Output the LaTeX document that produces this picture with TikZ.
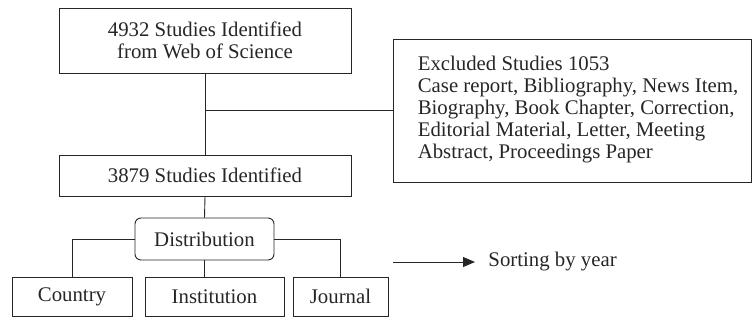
\documentclass[tikz,border=0pt]{standalone}
\usepackage{fontspec}
\setmainfont{Liberation Serif}
\usetikzlibrary{arrows.meta}
\begin{document}
\begin{tikzpicture}[x=1pt,y=-1pt,
  line width=0.9pt, draw=black!85,
  every node/.style={font=\fontsize{20.8}{22}\selectfont, text=black!85},
  box/.style={draw=black!85, line width=0.9pt, inner sep=0pt, align=center},
  rbox/.style={box, rounded corners=6pt},
  conn/.style={draw=black!85, line width=0.9pt}]
\useasboundingbox (0,0) rectangle (753,321);
\node[box, minimum width=292pt, minimum height=65pt] (top) at (205,40.5) {4932 Studies Identified\\from Web of Science};
\node[box, minimum width=292pt, minimum height=41pt] (mid) at (205,175.5) {3879 Studies Identified};
\node[box, minimum width=358pt, minimum height=143pt] (excl) at (572,110.5)
  {\begin{tabular}{@{\hspace{12pt}}l@{}}Excluded Studies 1053\\Case report, Bibliography, News Item,\\Biography, Book Chapter, Correction,\\Editorial Material, Letter, Meeting\\Abstract, Proceedings Paper\end{tabular}};
\node[rbox, minimum width=139pt, minimum height=42pt] (dist) at (204.5,239) {Distribution};
\node[box, minimum width=120pt, minimum height=39pt] (country) at (72,296.5) {Country};
\node[box, minimum width=139pt, minimum height=39pt] (inst) at (214.5,296.5) {Institution};
\node[box, minimum width=95pt, minimum height=39pt] (journal) at (340.5,296.5) {Journal};
\coordinate (a1) at (393,262);
\node[anchor=west, inner sep=0pt] (sort) at (488,262) {Sorting by year};
\draw[conn] (top.south) -- (mid.north);
\draw[conn] (top.south |- excl.west) -- (excl.west);
\draw[conn] (mid.south) -- (dist.north);
\draw[conn] (dist.west) -| (country.north);
\draw[conn] (dist.east) -| (journal.north);
\draw[conn] (dist.south) -- (dist.south |- inst.north);
\draw[conn, -{Triangle[length=12pt,width=10pt]}] (a1) -- ([xshift=-13pt]sort.west);
\end{tikzpicture}
\end{document}
